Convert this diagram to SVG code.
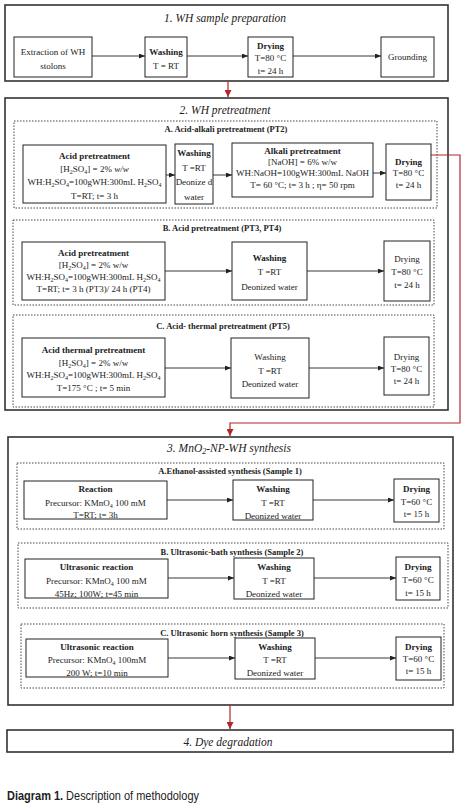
<svg xmlns="http://www.w3.org/2000/svg" width="470" height="811" viewBox="0 0 470 811">
<style>
.t{font-family:"Liberation Serif",serif;font-size:9px;fill:#222;text-anchor:middle}
.b{font-weight:bold}
.h{font-family:"Liberation Serif",serif;font-size:11.5px;font-style:italic;fill:#222;text-anchor:middle}
.lab{font-family:"Liberation Serif",serif;font-size:8.5px;font-weight:bold;fill:#222;text-anchor:middle}
.s{font-size:6px;baseline-shift:-2px}
.i{font-style:italic}
.box{fill:#fff;stroke:#222;stroke-width:1}
.dash{fill:none;stroke:#333;stroke-width:0.9;stroke-dasharray:1.5 1.5}
.sec{fill:#fff;stroke:#333;stroke-width:1.6}
.arr{stroke:#222;stroke-width:0.9;fill:none;marker-end:url(#ah)}
.red{stroke:#b3262b;stroke-width:1.2;fill:none;marker-end:url(#rh)}
.cap{font-family:"Liberation Sans",sans-serif;font-size:12px;fill:#222}
</style>
<defs>
<marker id="ah" markerUnits="userSpaceOnUse" markerWidth="6" markerHeight="5" refX="6" refY="2.5" orient="auto"><path d="M0,0 L6,2.5 L0,5 z" fill="#222"/></marker>
<marker id="rh" markerUnits="userSpaceOnUse" markerWidth="7" markerHeight="7" refX="7" refY="3.5" orient="auto"><path d="M0,0 L7,3.5 L0,7 z" fill="#b3262b"/></marker>
</defs>
<rect width="470" height="811" fill="#fff"/>

<!-- Sections -->
<g id="section1">
<rect class="sec" x="5" y="5" width="443" height="76"/>
<text class="h" x="225" y="22">1. WH sample preparation</text>
</g>
<g id="section2">
<rect class="sec" x="5" y="98" width="443" height="312"/>
<text class="h" x="225" y="114">2. WH pretreatment</text>
<rect class="dash" x="14" y="121" width="423" height="87"/>
<text class="lab" x="226" y="132">A. Acid-alkali pretreatment (PT2)</text>
<rect class="dash" x="13" y="220" width="421" height="85"/>
<text class="lab" x="222" y="231">B. Acid pretreatment (PT3, PT4)</text>
<rect class="dash" x="13" y="315" width="421" height="92"/>
<text class="lab" x="223" y="329">C. Acid- thermal pretreatment (PT5)</text>
</g>
<g id="section3">
<rect class="sec" x="8" y="437" width="445" height="268"/>
<text class="h" x="229" y="452">3. MnO<tspan class="s" style="font-size:8px">2</tspan>-NP-WH synthesis</text>
<rect class="dash" x="17" y="463" width="427" height="66"/>
<text class="lab" x="230" y="474">A.Ethanol-assisted synthesis (Sample 1)</text>
<rect class="dash" x="18" y="543" width="430" height="65"/>
<text class="lab" x="232" y="555">B. Ultrasonic-bath synthesis (Sample 2)</text>
<rect class="dash" x="21" y="624" width="423" height="64"/>
<text class="lab" x="232" y="636">C. Ultrasonic horn synthesis (Sample 3)</text>
</g>
<g id="section4">
<rect class="sec" x="7" y="730" width="446" height="22"/>
<text class="h" x="228" y="746">4. Dye degradation</text>
</g>

<!-- Connectors -->
<g id="connectors">
<line class="arr" x1="92" y1="56" x2="145" y2="56"/>
<line class="arr" x1="187" y1="56" x2="248" y2="56"/>
<line class="arr" x1="293" y1="56" x2="381" y2="56"/>
<line class="red" x1="228" y1="81" x2="228" y2="97"/>
<line class="arr" x1="166" y1="175" x2="175" y2="175"/>
<line class="arr" x1="213" y1="175" x2="232" y2="175"/>
<line class="arr" x1="373" y1="173" x2="386" y2="173"/>
<line class="arr" x1="165" y1="271" x2="232" y2="271"/>
<line class="arr" x1="307" y1="271" x2="384" y2="271"/>
<line class="arr" x1="165" y1="368" x2="231" y2="368"/>
<line class="arr" x1="309" y1="368" x2="384" y2="368"/>
<path class="red" d="M431,155 H460 V423 H230 V436"/>
<line class="arr" x1="167" y1="500" x2="233" y2="500"/>
<line class="arr" x1="313" y1="500" x2="394" y2="500"/>
<line class="arr" x1="168" y1="578" x2="234" y2="578"/>
<line class="arr" x1="314" y1="578" x2="396" y2="578"/>
<line class="arr" x1="168" y1="658" x2="235" y2="658"/>
<line class="arr" x1="315" y1="658" x2="396" y2="658"/>
<line class="red" x1="230" y1="705" x2="230" y2="729"/>
</g>

<!-- Section 1 nodes -->
<g id="n-extraction"><rect class="box" x="14" y="37" width="78" height="40"/>
<text class="t" x="53" y="55">Extraction of WH</text><text class="t" x="53" y="69">stolons</text></g>
<g id="n-wash1"><rect class="box" x="145" y="37" width="42" height="40"/>
<text class="t b" x="166" y="55">Washing</text><text class="t" x="166" y="69">T = RT</text></g>
<g id="n-dry1"><rect class="box" x="248" y="37" width="45" height="40"/>
<text class="t b" x="270.5" y="49">Drying</text><text class="t" x="270.5" y="61">T=80 °C</text><text class="t" x="270.5" y="74">t= 24 h</text></g>
<g id="n-grounding"><rect class="box" x="381" y="37" width="53" height="40"/>
<text class="t" x="407.5" y="60">Grounding</text></g>

<!-- Section 2A -->
<g id="n-2a-acid"><rect class="box" x="23" y="145" width="143" height="58"/>
<text class="t b" x="94.5" y="159">Acid pretreatment</text>
<text class="t" x="94.5" y="172">[H<tspan class="s">2</tspan>SO<tspan class="s">4</tspan>] = 2% <tspan class="i">w/w</tspan></text>
<text class="t" x="94.5" y="185">WH:H<tspan class="s">2</tspan>SO<tspan class="s">4</tspan>=100gWH:300mL H<tspan class="s">2</tspan>SO<tspan class="s">4</tspan></text>
<text class="t" x="94.5" y="199">T=RT; t= 3 h</text></g>
<g id="n-2a-wash"><rect class="box" x="175" y="144" width="38" height="60"/>
<text class="t b" x="194" y="156">Washing</text><text class="t" x="194" y="171">T =RT</text><text class="t" x="194" y="185">Deonize d</text><text class="t" x="194" y="200">water</text></g>
<g id="n-2a-alkali"><rect class="box" x="232" y="143" width="141" height="54"/>
<text class="t b" x="302.5" y="154">Alkali pretreatment</text>
<text class="t" x="302.5" y="165">[NaOH] = 6% w/w</text>
<text class="t" x="302.5" y="176">WH:NaOH=100gWH:300mL NaOH</text>
<text class="t" x="302.5" y="188">T= 60 °C; t= 3 h ; η= 50 rpm</text></g>
<g id="n-2a-dry"><rect class="box" x="386" y="144" width="45" height="56"/>
<text class="t b" x="408.5" y="165">Drying</text><text class="t" x="408.5" y="176">T=80 °C</text><text class="t" x="408.5" y="188">t= 24 h</text></g>

<!-- Section 2B -->
<g id="n-2b-acid"><rect class="box" x="22" y="242" width="143" height="58"/>
<text class="t b" x="93.5" y="256">Acid pretreatment</text>
<text class="t" x="93.5" y="268">[H<tspan class="s">2</tspan>SO<tspan class="s">4</tspan>] = 2% w/w</text>
<text class="t" x="93.5" y="280">WH:H<tspan class="s">2</tspan>SO<tspan class="s">4</tspan>=100gWH:300mL H<tspan class="s">2</tspan>SO<tspan class="s">4</tspan></text>
<text class="t" x="93.5" y="292">T=RT; t= 3 h (PT3)/ 24 h (PT4)</text></g>
<g id="n-2b-wash"><rect class="box" x="232" y="242" width="75" height="58"/>
<text class="t b" x="269.5" y="261">Washing</text><text class="t" x="269.5" y="275">T =RT</text><text class="t" x="269.5" y="290">Deonized water</text></g>
<g id="n-2b-dry"><rect class="box" x="384" y="241" width="46" height="60"/>
<text class="t" x="407" y="262">Drying</text><text class="t" x="407" y="275">T=80 °C</text><text class="t" x="407" y="288">t= 24 h</text></g>

<!-- Section 2C -->
<g id="n-2c-acid"><rect class="box" x="22" y="338" width="143" height="59"/>
<text class="t b" x="93.5" y="353">Acid thermal pretreatment</text>
<text class="t" x="93.5" y="366">[H<tspan class="s">2</tspan>SO<tspan class="s">4</tspan>] = 2% w/w</text>
<text class="t" x="93.5" y="378">WH:H<tspan class="s">2</tspan>SO<tspan class="s">4</tspan>=100gWH:300mL H<tspan class="s">2</tspan>SO<tspan class="s">4</tspan></text>
<text class="t" x="93.5" y="391">T=175 °C ; t= 5 min</text></g>
<g id="n-2c-wash"><rect class="box" x="231" y="338" width="78" height="60"/>
<text class="t" x="270" y="360">Washing</text><text class="t" x="270" y="374">T =RT</text><text class="t" x="270" y="387">Deonized water</text></g>
<g id="n-2c-dry"><rect class="box" x="384" y="337" width="45" height="58"/>
<text class="t" x="406.5" y="360">Drying</text><text class="t" x="406.5" y="372">T=80 °C</text><text class="t" x="406.5" y="384">t= 24 h</text></g>

<!-- Section 3A -->
<g id="n-3a-react"><rect class="box" x="24" y="481" width="143" height="38"/>
<text class="t b" x="95.5" y="492">Reaction</text>
<text class="t" x="95.5" y="506">Precursor: KMnO<tspan class="s">4</tspan> 100 mM</text>
<text class="t" x="95.5" y="518">T=RT; t= 3h</text></g>
<g id="n-3a-wash"><rect class="box" x="233" y="480" width="80" height="40"/>
<text class="t b" x="273" y="492">Washing</text><text class="t" x="273" y="506">T =RT</text><text class="t" x="273" y="519">Deonized water</text></g>
<g id="n-3a-dry"><rect class="box" x="394" y="479" width="45" height="43"/>
<text class="t b" x="416.5" y="492">Drying</text><text class="t" x="416.5" y="505">T=60 °C</text><text class="t" x="416.5" y="517">t= 15 h</text></g>

<!-- Section 3B -->
<g id="n-3b-react"><rect class="box" x="25" y="559" width="143" height="39"/>
<text class="t b" x="96.5" y="570">Ultrasonic reaction</text>
<text class="t" x="96.5" y="584">Precursor: KMnO<tspan class="s">4</tspan> 100 mM</text>
<text class="t" x="96.5" y="597">45Hz; 100W; t=45 min</text></g>
<g id="n-3b-wash"><rect class="box" x="234" y="558" width="80" height="41"/>
<text class="t b" x="274" y="570">Washing</text><text class="t" x="274" y="584">T =RT</text><text class="t" x="274" y="597">Deonized water</text></g>
<g id="n-3b-dry"><rect class="box" x="396" y="557" width="44" height="43"/>
<text class="t b" x="418" y="570">Drying</text><text class="t" x="418" y="583">T=60 °C</text><text class="t" x="418" y="596">t= 15 h</text></g>

<!-- Section 3C -->
<g id="n-3c-react"><rect class="box" x="26" y="639" width="142" height="38"/>
<text class="t b" x="97" y="650">Ultrasonic reaction</text>
<text class="t" x="97" y="663">Precursor: KMnO<tspan class="s">4</tspan> 100mM</text>
<text class="t" x="97" y="676">200 W; t=10 min</text></g>
<g id="n-3c-wash"><rect class="box" x="235" y="638" width="80" height="41"/>
<text class="t b" x="275" y="650">Washing</text><text class="t" x="275" y="663">T =RT</text><text class="t" x="275" y="676">Deonized water</text></g>
<g id="n-3c-dry"><rect class="box" x="396" y="637" width="45" height="43"/>
<text class="t b" x="418.5" y="650">Drying</text><text class="t" x="418.5" y="662">T=60 °C</text><text class="t" x="418.5" y="674">t= 15 h</text></g>

<text class="cap" x="7" y="800" textLength="192" lengthAdjust="spacingAndGlyphs"><tspan font-weight="bold">Diagram 1.</tspan> Description of methodology</text>
</svg>
